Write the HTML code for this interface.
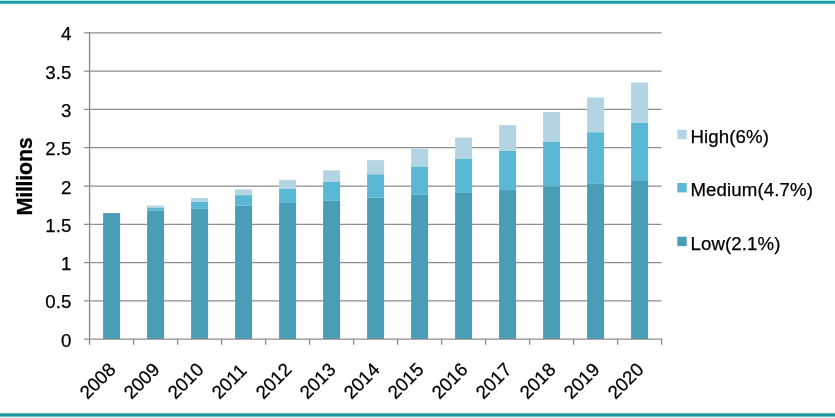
<!DOCTYPE html>
<html lang="en">
<head>
<meta charset="utf-8">
<title>Millions chart</title>
<style>
html,body{margin:0;padding:0;background:#fff;}
body{width:835px;height:418px;overflow:hidden;}
svg{display:block;}
text{font-family:"Liberation Sans",Arial,Helvetica,sans-serif;fill:#000;stroke:#000;stroke-width:0.25px;}
</style>
</head>
<body>
<svg width="835" height="418" viewBox="0 0 835 418">
<rect x="0" y="0" width="835" height="418" fill="#ffffff"/>
<rect x="0" y="0" width="835" height="1" fill="#aceff0"/>
<rect x="0" y="1" width="835" height="2.85" fill="#1a99a1"/>
<rect x="0" y="3.85" width="835" height="1.15" fill="#e4fafa"/>
<rect x="0" y="413.3" width="835" height="3.45" fill="#1a99a1"/>
<rect x="0" y="416.75" width="835" height="1.25" fill="#dcf8f8"/>
<g stroke="#8e8e8e" stroke-width="1.25" fill="none">
<line x1="84.1" y1="300.83" x2="661.6" y2="300.83"/>
<line x1="84.1" y1="262.55" x2="661.6" y2="262.55"/>
<line x1="84.1" y1="224.28" x2="661.6" y2="224.28"/>
<line x1="84.1" y1="186.00" x2="661.6" y2="186.00"/>
<line x1="84.1" y1="147.72" x2="661.6" y2="147.72"/>
<line x1="84.1" y1="109.45" x2="661.6" y2="109.45"/>
<line x1="84.1" y1="71.17" x2="661.6" y2="71.17"/>
<line x1="84.1" y1="32.90" x2="661.6" y2="32.90"/>
</g>
<rect x="103.10" y="213.1" width="17.0" height="126.0" fill="#4a9db6"/>
<rect x="147.10" y="205.6" width="17.0" height="2.3" fill="#b3d5e3"/>
<rect x="147.10" y="207.9" width="17.0" height="2.6" fill="#5bb8d4"/>
<rect x="147.10" y="210.5" width="17.0" height="128.6" fill="#4a9db6"/>
<rect x="191.10" y="198.0" width="17.0" height="3.9" fill="#b3d5e3"/>
<rect x="191.10" y="201.9" width="17.0" height="6.9" fill="#5bb8d4"/>
<rect x="191.10" y="208.8" width="17.0" height="130.3" fill="#4a9db6"/>
<rect x="235.10" y="189.4" width="17.0" height="5.8" fill="#b3d5e3"/>
<rect x="235.10" y="195.2" width="17.0" height="10.4" fill="#5bb8d4"/>
<rect x="235.10" y="205.6" width="17.0" height="133.5" fill="#4a9db6"/>
<rect x="279.10" y="179.9" width="17.0" height="9.1" fill="#b3d5e3"/>
<rect x="279.10" y="189.0" width="17.0" height="13.9" fill="#5bb8d4"/>
<rect x="279.10" y="202.9" width="17.0" height="136.2" fill="#4a9db6"/>
<rect x="323.10" y="170.3" width="17.0" height="11.6" fill="#b3d5e3"/>
<rect x="323.10" y="181.9" width="17.0" height="18.9" fill="#5bb8d4"/>
<rect x="323.10" y="200.8" width="17.0" height="138.3" fill="#4a9db6"/>
<rect x="367.10" y="160.1" width="17.0" height="14.3" fill="#b3d5e3"/>
<rect x="367.10" y="174.4" width="17.0" height="23.2" fill="#5bb8d4"/>
<rect x="367.10" y="197.6" width="17.0" height="141.5" fill="#4a9db6"/>
<rect x="411.10" y="148.9" width="17.0" height="17.7" fill="#b3d5e3"/>
<rect x="411.10" y="166.6" width="17.0" height="28.1" fill="#5bb8d4"/>
<rect x="411.10" y="194.7" width="17.0" height="144.4" fill="#4a9db6"/>
<rect x="455.10" y="137.6" width="17.0" height="21.1" fill="#b3d5e3"/>
<rect x="455.10" y="158.7" width="17.0" height="34.2" fill="#5bb8d4"/>
<rect x="455.10" y="192.9" width="17.0" height="146.2" fill="#4a9db6"/>
<rect x="499.10" y="125.1" width="17.0" height="25.7" fill="#b3d5e3"/>
<rect x="499.10" y="150.8" width="17.0" height="39.3" fill="#5bb8d4"/>
<rect x="499.10" y="190.1" width="17.0" height="149.0" fill="#4a9db6"/>
<rect x="543.10" y="112.0" width="17.0" height="29.9" fill="#b3d5e3"/>
<rect x="543.10" y="141.9" width="17.0" height="44.8" fill="#5bb8d4"/>
<rect x="543.10" y="186.7" width="17.0" height="152.4" fill="#4a9db6"/>
<rect x="587.10" y="97.5" width="17.0" height="34.8" fill="#b3d5e3"/>
<rect x="587.10" y="132.3" width="17.0" height="51.5" fill="#5bb8d4"/>
<rect x="587.10" y="183.8" width="17.0" height="155.3" fill="#4a9db6"/>
<rect x="631.10" y="82.5" width="17.0" height="40.3" fill="#b3d5e3"/>
<rect x="631.10" y="122.8" width="17.0" height="58.2" fill="#5bb8d4"/>
<rect x="631.10" y="181.0" width="17.0" height="158.1" fill="#4a9db6"/>
<g stroke="#8e8e8e" stroke-width="1.4" fill="none">
<line x1="84.1" y1="339.10" x2="662.2" y2="339.10"/>
<line x1="89.60" y1="32.3" x2="89.60" y2="344.7"/>
<line x1="133.60" y1="339.1" x2="133.60" y2="344.7"/>
<line x1="177.60" y1="339.1" x2="177.60" y2="344.7"/>
<line x1="221.60" y1="339.1" x2="221.60" y2="344.7"/>
<line x1="265.60" y1="339.1" x2="265.60" y2="344.7"/>
<line x1="309.60" y1="339.1" x2="309.60" y2="344.7"/>
<line x1="353.60" y1="339.1" x2="353.60" y2="344.7"/>
<line x1="397.60" y1="339.1" x2="397.60" y2="344.7"/>
<line x1="441.60" y1="339.1" x2="441.60" y2="344.7"/>
<line x1="485.60" y1="339.1" x2="485.60" y2="344.7"/>
<line x1="529.60" y1="339.1" x2="529.60" y2="344.7"/>
<line x1="573.60" y1="339.1" x2="573.60" y2="344.7"/>
<line x1="617.60" y1="339.1" x2="617.60" y2="344.7"/>
<line x1="661.60" y1="339.1" x2="661.60" y2="344.7"/>
</g>
<g font-size="18.67" text-anchor="end" letter-spacing="0.2">
<text x="71.7" y="346.6">0</text>
<text x="71.7" y="308.3">0.5</text>
<text x="71.7" y="270.1">1</text>
<text x="71.7" y="231.8">1.5</text>
<text x="71.7" y="193.5">2</text>
<text x="71.7" y="155.2">2.5</text>
<text x="71.7" y="116.9">3</text>
<text x="71.7" y="78.7">3.5</text>
<text x="71.7" y="40.4">4</text>
</g>
<g font-size="18.67">
<text transform="translate(87.4 400.1) rotate(-45)">2008</text>
<text transform="translate(131.4 400.1) rotate(-45)">2009</text>
<text transform="translate(175.4 400.1) rotate(-45)">2010</text>
<text transform="translate(219.4 400.1) rotate(-45)">2011</text>
<text transform="translate(263.4 400.1) rotate(-45)">2012</text>
<text transform="translate(307.4 400.1) rotate(-45)">2013</text>
<text transform="translate(351.4 400.1) rotate(-45)">2014</text>
<text transform="translate(395.4 400.1) rotate(-45)">2015</text>
<text transform="translate(439.4 400.1) rotate(-45)">2016</text>
<text transform="translate(483.4 400.1) rotate(-45)">2017</text>
<text transform="translate(527.4 400.1) rotate(-45)">2018</text>
<text transform="translate(571.4 400.1) rotate(-45)">2019</text>
<text transform="translate(615.4 400.1) rotate(-45)">2020</text>
</g>
<text transform="translate(31.7 215.5) rotate(-90)" font-size="21.6" font-weight="bold" letter-spacing="-0.3">Millions</text>
<g font-size="18.67" letter-spacing="0.12">
<rect x="677.3" y="129.7" width="9.4" height="9.4" fill="#b3d5e3"/>
<text x="690.4" y="142.8">High(6%)</text>
<rect x="677.3" y="183.0" width="9.4" height="9.4" fill="#5bb8d4"/>
<text x="690.4" y="196.1">Medium(4.7%)</text>
<rect x="677.3" y="236.7" width="9.4" height="9.4" fill="#4a9db6"/>
<text x="690.4" y="249.8">Low(2.1%)</text>
</g>
</svg>
</body>
</html>
